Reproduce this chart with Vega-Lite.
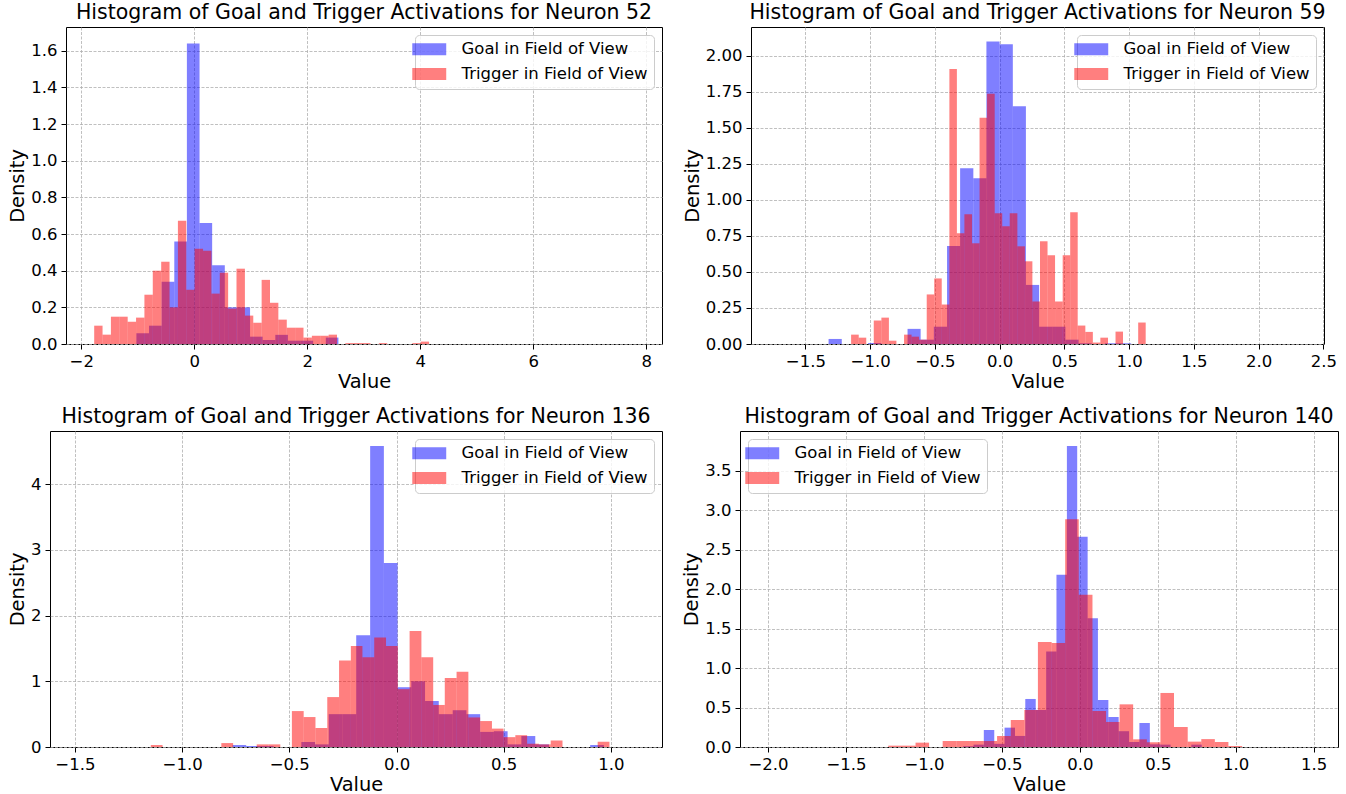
{
  "$schema": "https://vega.github.io/schema/vega-lite/v6.json",
  "background": "white",
  "padding": {"left": 6, "top": 2, "right": 5, "bottom": 5},
  "config": {
    "font": "DejaVu Sans",
    "view": {"stroke": "black", "strokeWidth": 1},
    "axis": {"domain": false, "grid": true, "gridColor": "#b0b0b0", "gridDash": [3, 1.5], "gridWidth": 0.8, "tickColor": "black", "tickSize": 5, "tickWidth": 1, "labelColor": "black", "labelFontSize": 16.5, "labelPadding": 4, "titleColor": "black", "titleFontSize": 19.4, "titleFontWeight": "normal", "titlePadding": 3, "labelFlush": false, "labelOverlap": false},
    "title": {"fontSize": 20.5, "fontWeight": "normal", "color": "black", "anchor": "middle", "frame": "group", "offset": 4},
    "legend": {"labelFontSize": 16.5, "labelColor": "black", "symbolType": "M-2.83,-1H2.83V1H-2.83Z", "symbolSize": 144, "symbolOpacity": 0.5, "symbolStrokeWidth": 0, "labelOffset": 24, "rowPadding": 7.7, "padding": 6, "offset": 8, "strokeColor": "#cccccc", "fillColor": "rgba(255,255,255,0.8)", "cornerRadius": 4, "labelLimit": 400}
  },
  "data": {"values": [
    {"p":1,"s":"Goal in Field of View","a":-1.024,"b":-0.800,"d":0.058},
    {"p":1,"s":"Goal in Field of View","a":-0.800,"b":-0.577,"d":0.10},
    {"p":1,"s":"Goal in Field of View","a":-0.577,"b":-0.353,"d":0.34},
    {"p":1,"s":"Goal in Field of View","a":-0.353,"b":-0.130,"d":0.56},
    {"p":1,"s":"Goal in Field of View","a":-0.130,"b":0.094,"d":1.64},
    {"p":1,"s":"Goal in Field of View","a":0.094,"b":0.317,"d":0.66},
    {"p":1,"s":"Goal in Field of View","a":0.317,"b":0.541,"d":0.43},
    {"p":1,"s":"Goal in Field of View","a":0.541,"b":0.764,"d":0.20},
    {"p":1,"s":"Goal in Field of View","a":0.764,"b":0.988,"d":0.20},
    {"p":1,"s":"Goal in Field of View","a":0.988,"b":1.211,"d":0.04},
    {"p":1,"s":"Goal in Field of View","a":1.211,"b":1.435,"d":0.022},
    {"p":1,"s":"Goal in Field of View","a":1.435,"b":1.658,"d":0.05},
    {"p":1,"s":"Goal in Field of View","a":1.658,"b":1.882,"d":0.018},
    {"p":1,"s":"Goal in Field of View","a":1.882,"b":2.105,"d":0.018},
    {"p":1,"s":"Goal in Field of View","a":2.329,"b":2.552,"d":0.035},
    {"p":1,"s":"Trigger in Field of View","a":-1.771,"b":-1.623,"d":0.1},
    {"p":1,"s":"Trigger in Field of View","a":-1.623,"b":-1.475,"d":0.051},
    {"p":1,"s":"Trigger in Field of View","a":-1.475,"b":-1.326,"d":0.149},
    {"p":1,"s":"Trigger in Field of View","a":-1.326,"b":-1.178,"d":0.149},
    {"p":1,"s":"Trigger in Field of View","a":-1.178,"b":-1.030,"d":0.122},
    {"p":1,"s":"Trigger in Field of View","a":-1.030,"b":-0.882,"d":0.144},
    {"p":1,"s":"Trigger in Field of View","a":-0.882,"b":-0.734,"d":0.269},
    {"p":1,"s":"Trigger in Field of View","a":-0.734,"b":-0.585,"d":0.4},
    {"p":1,"s":"Trigger in Field of View","a":-0.585,"b":-0.437,"d":0.449},
    {"p":1,"s":"Trigger in Field of View","a":-0.437,"b":-0.289,"d":0.2},
    {"p":1,"s":"Trigger in Field of View","a":-0.289,"b":-0.141,"d":0.673},
    {"p":1,"s":"Trigger in Field of View","a":-0.141,"b":0.007,"d":0.296},
    {"p":1,"s":"Trigger in Field of View","a":0.007,"b":0.156,"d":0.52},
    {"p":1,"s":"Trigger in Field of View","a":0.156,"b":0.304,"d":0.509},
    {"p":1,"s":"Trigger in Field of View","a":0.304,"b":0.452,"d":0.275},
    {"p":1,"s":"Trigger in Field of View","a":0.452,"b":0.600,"d":0.389},
    {"p":1,"s":"Trigger in Field of View","a":0.600,"b":0.748,"d":0.193},
    {"p":1,"s":"Trigger in Field of View","a":0.748,"b":0.897,"d":0.411},
    {"p":1,"s":"Trigger in Field of View","a":0.897,"b":1.045,"d":0.155},
    {"p":1,"s":"Trigger in Field of View","a":1.045,"b":1.193,"d":0.116},
    {"p":1,"s":"Trigger in Field of View","a":1.193,"b":1.341,"d":0.35},
    {"p":1,"s":"Trigger in Field of View","a":1.341,"b":1.489,"d":0.225},
    {"p":1,"s":"Trigger in Field of View","a":1.489,"b":1.638,"d":0.133},
    {"p":1,"s":"Trigger in Field of View","a":1.638,"b":1.786,"d":0.089},
    {"p":1,"s":"Trigger in Field of View","a":1.786,"b":1.934,"d":0.089},
    {"p":1,"s":"Trigger in Field of View","a":1.934,"b":2.082,"d":0.035},
    {"p":1,"s":"Trigger in Field of View","a":2.082,"b":2.230,"d":0.045},
    {"p":1,"s":"Trigger in Field of View","a":2.230,"b":2.379,"d":0.045},
    {"p":1,"s":"Trigger in Field of View","a":2.379,"b":2.527,"d":0.051},
    {"p":1,"s":"Trigger in Field of View","a":2.675,"b":2.823,"d":0.005},
    {"p":1,"s":"Trigger in Field of View","a":2.823,"b":2.971,"d":0.005},
    {"p":1,"s":"Trigger in Field of View","a":2.971,"b":3.120,"d":0.005},
    {"p":1,"s":"Trigger in Field of View","a":3.268,"b":3.416,"d":0.005},
    {"p":1,"s":"Trigger in Field of View","a":3.861,"b":4.009,"d":0.005},
    {"p":1,"s":"Trigger in Field of View","a":4.009,"b":4.157,"d":0.013},

    {"p":2,"s":"Goal in Field of View","a":-1.321,"b":-1.219,"d":0.035},
    {"p":2,"s":"Goal in Field of View","a":-1.016,"b":-0.914,"d":0.007},
    {"p":2,"s":"Goal in Field of View","a":-0.711,"b":-0.610,"d":0.105},
    {"p":2,"s":"Goal in Field of View","a":-0.610,"b":-0.508,"d":0.03},
    {"p":2,"s":"Goal in Field of View","a":-0.508,"b":-0.406,"d":0.12},
    {"p":2,"s":"Goal in Field of View","a":-0.406,"b":-0.305,"d":0.68},
    {"p":2,"s":"Goal in Field of View","a":-0.305,"b":-0.203,"d":1.22},
    {"p":2,"s":"Goal in Field of View","a":-0.203,"b":-0.102,"d":1.15},
    {"p":2,"s":"Goal in Field of View","a":-0.102,"b":0.0,"d":2.10},
    {"p":2,"s":"Goal in Field of View","a":0.0,"b":0.102,"d":2.08},
    {"p":2,"s":"Goal in Field of View","a":0.102,"b":0.203,"d":1.65},
    {"p":2,"s":"Goal in Field of View","a":0.203,"b":0.305,"d":0.41},
    {"p":2,"s":"Goal in Field of View","a":0.305,"b":0.406,"d":0.12},
    {"p":2,"s":"Goal in Field of View","a":0.406,"b":0.508,"d":0.12},
    {"p":2,"s":"Goal in Field of View","a":0.508,"b":0.610,"d":0.03},
    {"p":2,"s":"Goal in Field of View","a":0.610,"b":0.711,"d":0.005},
    {"p":2,"s":"Goal in Field of View","a":0.813,"b":0.914,"d":0.005},
    {"p":2,"s":"Goal in Field of View","a":0.914,"b":1.016,"d":0.005},
    {"p":2,"s":"Trigger in Field of View","a":-1.147,"b":-1.088,"d":0.065},
    {"p":2,"s":"Trigger in Field of View","a":-1.088,"b":-1.030,"d":0.044},
    {"p":2,"s":"Trigger in Field of View","a":-0.972,"b":-0.913,"d":0.163},
    {"p":2,"s":"Trigger in Field of View","a":-0.913,"b":-0.855,"d":0.183},
    {"p":2,"s":"Trigger in Field of View","a":-0.855,"b":-0.797,"d":0.023},
    {"p":2,"s":"Trigger in Field of View","a":-0.738,"b":-0.680,"d":0.065},
    {"p":2,"s":"Trigger in Field of View","a":-0.680,"b":-0.622,"d":0.051},
    {"p":2,"s":"Trigger in Field of View","a":-0.622,"b":-0.563,"d":0.03},
    {"p":2,"s":"Trigger in Field of View","a":-0.563,"b":-0.505,"d":0.344},
    {"p":2,"s":"Trigger in Field of View","a":-0.505,"b":-0.447,"d":0.455},
    {"p":2,"s":"Trigger in Field of View","a":-0.447,"b":-0.388,"d":0.274},
    {"p":2,"s":"Trigger in Field of View","a":-0.388,"b":-0.330,"d":1.909},
    {"p":2,"s":"Trigger in Field of View","a":-0.330,"b":-0.272,"d":0.769},
    {"p":2,"s":"Trigger in Field of View","a":-0.272,"b":-0.213,"d":0.901},
    {"p":2,"s":"Trigger in Field of View","a":-0.213,"b":-0.155,"d":0.699},
    {"p":2,"s":"Trigger in Field of View","a":-0.155,"b":-0.097,"d":1.57},
    {"p":2,"s":"Trigger in Field of View","a":-0.097,"b":-0.038,"d":1.737},
    {"p":2,"s":"Trigger in Field of View","a":-0.038,"b":0.020,"d":0.908},
    {"p":2,"s":"Trigger in Field of View","a":0.020,"b":0.078,"d":0.818},
    {"p":2,"s":"Trigger in Field of View","a":0.078,"b":0.137,"d":0.908},
    {"p":2,"s":"Trigger in Field of View","a":0.137,"b":0.195,"d":0.678},
    {"p":2,"s":"Trigger in Field of View","a":0.195,"b":0.253,"d":0.574},
    {"p":2,"s":"Trigger in Field of View","a":0.253,"b":0.312,"d":0.295},
    {"p":2,"s":"Trigger in Field of View","a":0.312,"b":0.370,"d":0.713},
    {"p":2,"s":"Trigger in Field of View","a":0.370,"b":0.428,"d":0.616},
    {"p":2,"s":"Trigger in Field of View","a":0.428,"b":0.487,"d":0.295},
    {"p":2,"s":"Trigger in Field of View","a":0.487,"b":0.545,"d":0.616},
    {"p":2,"s":"Trigger in Field of View","a":0.545,"b":0.603,"d":0.915},
    {"p":2,"s":"Trigger in Field of View","a":0.603,"b":0.662,"d":0.128},
    {"p":2,"s":"Trigger in Field of View","a":0.662,"b":0.720,"d":0.084},
    {"p":2,"s":"Trigger in Field of View","a":0.720,"b":0.778,"d":0.01},
    {"p":2,"s":"Trigger in Field of View","a":0.778,"b":0.837,"d":0.044},
    {"p":2,"s":"Trigger in Field of View","a":0.895,"b":0.953,"d":0.086},
    {"p":2,"s":"Trigger in Field of View","a":1.070,"b":1.128,"d":0.149},

    {"p":3,"s":"Goal in Field of View","a":-0.765,"b":-0.701,"d":0.03},
    {"p":3,"s":"Goal in Field of View","a":-0.701,"b":-0.637,"d":0.015},
    {"p":3,"s":"Goal in Field of View","a":-0.637,"b":-0.573,"d":0.015},
    {"p":3,"s":"Goal in Field of View","a":-0.444,"b":-0.380,"d":0.076},
    {"p":3,"s":"Goal in Field of View","a":-0.380,"b":-0.316,"d":0.04},
    {"p":3,"s":"Goal in Field of View","a":-0.316,"b":-0.252,"d":0.5},
    {"p":3,"s":"Goal in Field of View","a":-0.252,"b":-0.188,"d":0.5},
    {"p":3,"s":"Goal in Field of View","a":-0.188,"b":-0.123,"d":1.70},
    {"p":3,"s":"Goal in Field of View","a":-0.123,"b":-0.059,"d":4.58},
    {"p":3,"s":"Goal in Field of View","a":-0.059,"b":0.005,"d":2.80},
    {"p":3,"s":"Goal in Field of View","a":0.005,"b":0.069,"d":0.91},
    {"p":3,"s":"Goal in Field of View","a":0.069,"b":0.133,"d":1.00},
    {"p":3,"s":"Goal in Field of View","a":0.133,"b":0.197,"d":0.70},
    {"p":3,"s":"Goal in Field of View","a":0.197,"b":0.262,"d":0.50},
    {"p":3,"s":"Goal in Field of View","a":0.262,"b":0.326,"d":0.56},
    {"p":3,"s":"Goal in Field of View","a":0.326,"b":0.390,"d":0.50},
    {"p":3,"s":"Goal in Field of View","a":0.390,"b":0.454,"d":0.23},
    {"p":3,"s":"Goal in Field of View","a":0.454,"b":0.518,"d":0.24},
    {"p":3,"s":"Goal in Field of View","a":0.518,"b":0.582,"d":0.04},
    {"p":3,"s":"Goal in Field of View","a":0.582,"b":0.647,"d":0.167},
    {"p":3,"s":"Goal in Field of View","a":0.647,"b":0.711,"d":0.04},
    {"p":3,"s":"Goal in Field of View","a":0.903,"b":0.967,"d":0.03},
    {"p":3,"s":"Trigger in Field of View","a":-1.146,"b":-1.091,"d":0.03},
    {"p":3,"s":"Trigger in Field of View","a":-0.817,"b":-0.762,"d":0.06},
    {"p":3,"s":"Trigger in Field of View","a":-0.652,"b":-0.597,"d":0.04},
    {"p":3,"s":"Trigger in Field of View","a":-0.597,"b":-0.542,"d":0.04},
    {"p":3,"s":"Trigger in Field of View","a":-0.488,"b":-0.433,"d":0.547},
    {"p":3,"s":"Trigger in Field of View","a":-0.433,"b":-0.378,"d":0.456},
    {"p":3,"s":"Trigger in Field of View","a":-0.378,"b":-0.323,"d":0.289},
    {"p":3,"s":"Trigger in Field of View","a":-0.323,"b":-0.268,"d":0.76},
    {"p":3,"s":"Trigger in Field of View","a":-0.268,"b":-0.213,"d":1.318},
    {"p":3,"s":"Trigger in Field of View","a":-0.213,"b":-0.159,"d":1.536},
    {"p":3,"s":"Trigger in Field of View","a":-0.159,"b":-0.104,"d":1.368},
    {"p":3,"s":"Trigger in Field of View","a":-0.104,"b":-0.049,"d":1.667},
    {"p":3,"s":"Trigger in Field of View","a":-0.049,"b":0.006,"d":1.536},
    {"p":3,"s":"Trigger in Field of View","a":0.006,"b":0.061,"d":0.88},
    {"p":3,"s":"Trigger in Field of View","a":0.061,"b":0.116,"d":1.764},
    {"p":3,"s":"Trigger in Field of View","a":0.116,"b":0.171,"d":1.368},
    {"p":3,"s":"Trigger in Field of View","a":0.171,"b":0.225,"d":0.64},
    {"p":3,"s":"Trigger in Field of View","a":0.225,"b":0.280,"d":1.05},
    {"p":3,"s":"Trigger in Field of View","a":0.280,"b":0.335,"d":1.146},
    {"p":3,"s":"Trigger in Field of View","a":0.335,"b":0.390,"d":0.45},
    {"p":3,"s":"Trigger in Field of View","a":0.390,"b":0.445,"d":0.395},
    {"p":3,"s":"Trigger in Field of View","a":0.445,"b":0.499,"d":0.28},
    {"p":3,"s":"Trigger in Field of View","a":0.499,"b":0.554,"d":0.15},
    {"p":3,"s":"Trigger in Field of View","a":0.554,"b":0.609,"d":0.18},
    {"p":3,"s":"Trigger in Field of View","a":0.609,"b":0.664,"d":0.05},
    {"p":3,"s":"Trigger in Field of View","a":0.664,"b":0.719,"d":0.04},
    {"p":3,"s":"Trigger in Field of View","a":0.719,"b":0.774,"d":0.1},
    {"p":3,"s":"Trigger in Field of View","a":0.938,"b":0.993,"d":0.08},

    {"p":4,"s":"Goal in Field of View","a":-0.749,"b":-0.682,"d":0.01},
    {"p":4,"s":"Goal in Field of View","a":-0.682,"b":-0.616,"d":0.03},
    {"p":4,"s":"Goal in Field of View","a":-0.616,"b":-0.549,"d":0.215},
    {"p":4,"s":"Goal in Field of View","a":-0.549,"b":-0.483,"d":0.04},
    {"p":4,"s":"Goal in Field of View","a":-0.483,"b":-0.416,"d":0.245},
    {"p":4,"s":"Goal in Field of View","a":-0.416,"b":-0.350,"d":0.14},
    {"p":4,"s":"Goal in Field of View","a":-0.350,"b":-0.283,"d":0.608},
    {"p":4,"s":"Goal in Field of View","a":-0.283,"b":-0.216,"d":0.469},
    {"p":4,"s":"Goal in Field of View","a":-0.216,"b":-0.150,"d":1.208},
    {"p":4,"s":"Goal in Field of View","a":-0.150,"b":-0.083,"d":2.18},
    {"p":4,"s":"Goal in Field of View","a":-0.083,"b":-0.017,"d":3.81},
    {"p":4,"s":"Goal in Field of View","a":-0.017,"b":0.050,"d":2.66},
    {"p":4,"s":"Goal in Field of View","a":0.050,"b":0.116,"d":1.63},
    {"p":4,"s":"Goal in Field of View","a":0.116,"b":0.183,"d":0.595},
    {"p":4,"s":"Goal in Field of View","a":0.183,"b":0.249,"d":0.38},
    {"p":4,"s":"Goal in Field of View","a":0.249,"b":0.316,"d":0.2},
    {"p":4,"s":"Goal in Field of View","a":0.316,"b":0.382,"d":0.063},
    {"p":4,"s":"Goal in Field of View","a":0.382,"b":0.449,"d":0.304},
    {"p":4,"s":"Goal in Field of View","a":0.449,"b":0.516,"d":0.034},
    {"p":4,"s":"Goal in Field of View","a":0.516,"b":0.582,"d":0.03},
    {"p":4,"s":"Goal in Field of View","a":0.715,"b":0.782,"d":0.03},
    {"p":4,"s":"Trigger in Field of View","a":-1.229,"b":-1.141,"d":0.017},
    {"p":4,"s":"Trigger in Field of View","a":-1.141,"b":-1.054,"d":0.017},
    {"p":4,"s":"Trigger in Field of View","a":-1.054,"b":-0.967,"d":0.055},
    {"p":4,"s":"Trigger in Field of View","a":-0.880,"b":-0.792,"d":0.076},
    {"p":4,"s":"Trigger in Field of View","a":-0.792,"b":-0.705,"d":0.076},
    {"p":4,"s":"Trigger in Field of View","a":-0.705,"b":-0.618,"d":0.076},
    {"p":4,"s":"Trigger in Field of View","a":-0.618,"b":-0.531,"d":0.076},
    {"p":4,"s":"Trigger in Field of View","a":-0.531,"b":-0.443,"d":0.139},
    {"p":4,"s":"Trigger in Field of View","a":-0.443,"b":-0.356,"d":0.342},
    {"p":4,"s":"Trigger in Field of View","a":-0.356,"b":-0.269,"d":0.469},
    {"p":4,"s":"Trigger in Field of View","a":-0.269,"b":-0.181,"d":1.33},
    {"p":4,"s":"Trigger in Field of View","a":-0.181,"b":-0.094,"d":1.318},
    {"p":4,"s":"Trigger in Field of View","a":-0.094,"b":-0.007,"d":2.884},
    {"p":4,"s":"Trigger in Field of View","a":-0.007,"b":0.081,"d":1.926},
    {"p":4,"s":"Trigger in Field of View","a":0.081,"b":0.168,"d":0.456},
    {"p":4,"s":"Trigger in Field of View","a":0.168,"b":0.255,"d":0.317},
    {"p":4,"s":"Trigger in Field of View","a":0.255,"b":0.342,"d":0.54},
    {"p":4,"s":"Trigger in Field of View","a":0.342,"b":0.430,"d":0.097},
    {"p":4,"s":"Trigger in Field of View","a":0.430,"b":0.517,"d":0.06},
    {"p":4,"s":"Trigger in Field of View","a":0.517,"b":0.604,"d":0.684},
    {"p":4,"s":"Trigger in Field of View","a":0.604,"b":0.692,"d":0.253},
    {"p":4,"s":"Trigger in Field of View","a":0.692,"b":0.779,"d":0.068},
    {"p":4,"s":"Trigger in Field of View","a":0.779,"b":0.866,"d":0.1},
    {"p":4,"s":"Trigger in Field of View","a":0.866,"b":0.953,"d":0.063},
    {"p":4,"s":"Trigger in Field of View","a":0.953,"b":1.041,"d":0.013}
  ]},
  "resolve": {"scale": {"color": "independent"}, "legend": {"color": "independent"}},
  "spacing": 14,
  "vconcat": [
    {
      "spacing": 0,
      "resolve": {"scale": {"color": "independent"}, "legend": {"color": "independent"}},
      "hconcat": [
        {"width": 1, "height": 1, "data": {"values": []}, "mark": {"type": "point", "opacity": 0}, "encoding": {}, "view": {"stroke": null}},
        {
          "spacing": 18,
          "resolve": {"scale": {"color": "independent"}, "legend": {"color": "independent"}},
          "hconcat": [
            {
              "width": 596, "height": 317,
              "title": {"text": "Histogram of Goal and Trigger Activations for Neuron 52"},
              "transform": [{"filter": "datum.p == 1"}],
              "mark": {"type": "rect", "opacity": 0.5, "clip": true},
              "encoding": {
                "x": {"field": "a", "type": "quantitative", "scale": {"domain": [-2.27, 8.28], "nice": false, "zero": false}, "axis": {"title": "Value", "values": [-2, 0, 2, 4, 6, 8], "format": "d"}},
                "x2": {"field": "b"},
                "y": {"field": "d", "type": "quantitative", "scale": {"domain": [0, 1.73], "nice": false}, "axis": {"title": "Density", "values": [0, 0.2, 0.4, 0.6, 0.8, 1.0, 1.2, 1.4, 1.6], "format": ".1f"}},
                "y2": {"datum": 0},
                "color": {"field": "s", "type": "nominal", "scale": {"domain": ["Goal in Field of View", "Trigger in Field of View"], "range": ["#0000ff", "#ff0000"]}, "legend": {"title": null, "orient": "top-right"}}
              }
            },
            {
              "width": 573, "height": 317,
              "title": {"text": "Histogram of Goal and Trigger Activations for Neuron 59"},
              "transform": [{"filter": "datum.p == 2"}],
              "mark": {"type": "rect", "opacity": 0.5, "clip": true},
              "encoding": {
                "x": {"field": "a", "type": "quantitative", "scale": {"domain": [-1.92, 2.505], "nice": false, "zero": false}, "axis": {"title": "Value", "values": [-1.5, -1.0, -0.5, 0.0, 0.5, 1.0, 1.5, 2.0, 2.5], "format": ".1f"}},
                "x2": {"field": "b"},
                "y": {"field": "d", "type": "quantitative", "scale": {"domain": [0, 2.2], "nice": false}, "axis": {"title": "Density", "values": [0, 0.25, 0.5, 0.75, 1.0, 1.25, 1.5, 1.75, 2.0], "format": ".2f"}},
                "y2": {"datum": 0},
                "color": {"field": "s", "type": "nominal", "scale": {"domain": ["Goal in Field of View", "Trigger in Field of View"], "range": ["#0000ff", "#ff0000"]}, "legend": {"title": null, "orient": "top-right"}}
              }
            }
          ]
        }
      ]
    },
    {
      "spacing": 0,
      "resolve": {"scale": {"color": "independent"}, "legend": {"color": "independent"}},
      "hconcat": [
        {"width": 1, "height": 1, "data": {"values": []}, "mark": {"type": "point", "opacity": 0}, "encoding": {}, "view": {"stroke": null}},
        {
          "spacing": 18,
          "resolve": {"scale": {"color": "independent"}, "legend": {"color": "independent"}},
          "hconcat": [
            {
              "width": 612, "height": 316,
              "title": {"text": "Histogram of Goal and Trigger Activations for Neuron 136"},
              "transform": [{"filter": "datum.p == 3"}],
              "mark": {"type": "rect", "opacity": 0.5, "clip": true},
              "encoding": {
                "x": {"field": "a", "type": "quantitative", "scale": {"domain": [-1.616, 1.238], "nice": false, "zero": false}, "axis": {"title": "Value", "values": [-1.5, -1.0, -0.5, 0.0, 0.5, 1.0], "format": ".1f"}},
                "x2": {"field": "b"},
                "y": {"field": "d", "type": "quantitative", "scale": {"domain": [0, 4.81], "nice": false}, "axis": {"title": "Density", "values": [0, 1, 2, 3, 4], "format": "d"}},
                "y2": {"datum": 0},
                "color": {"field": "s", "type": "nominal", "scale": {"domain": ["Goal in Field of View", "Trigger in Field of View"], "range": ["#0000ff", "#ff0000"]}, "legend": {"title": null, "orient": "top-right"}}
              }
            },
            {
              "width": 598, "height": 316,
              "title": {"text": "Histogram of Goal and Trigger Activations for Neuron 140"},
              "transform": [{"filter": "datum.p == 4"}],
              "mark": {"type": "rect", "opacity": 0.5, "clip": true},
              "encoding": {
                "x": {"field": "a", "type": "quantitative", "scale": {"domain": [-2.18, 1.656], "nice": false, "zero": false}, "axis": {"title": "Value", "values": [-2.0, -1.5, -1.0, -0.5, 0.0, 0.5, 1.0, 1.5], "format": ".1f"}},
                "x2": {"field": "b"},
                "y": {"field": "d", "type": "quantitative", "scale": {"domain": [0, 4.0], "nice": false}, "axis": {"title": "Density", "values": [0, 0.5, 1.0, 1.5, 2.0, 2.5, 3.0, 3.5], "format": ".1f"}},
                "y2": {"datum": 0},
                "color": {"field": "s", "type": "nominal", "scale": {"domain": ["Goal in Field of View", "Trigger in Field of View"], "range": ["#0000ff", "#ff0000"]}, "legend": {"title": null, "orient": "top-left"}}
              }
            }
          ]
        }
      ]
    }
  ]
}
